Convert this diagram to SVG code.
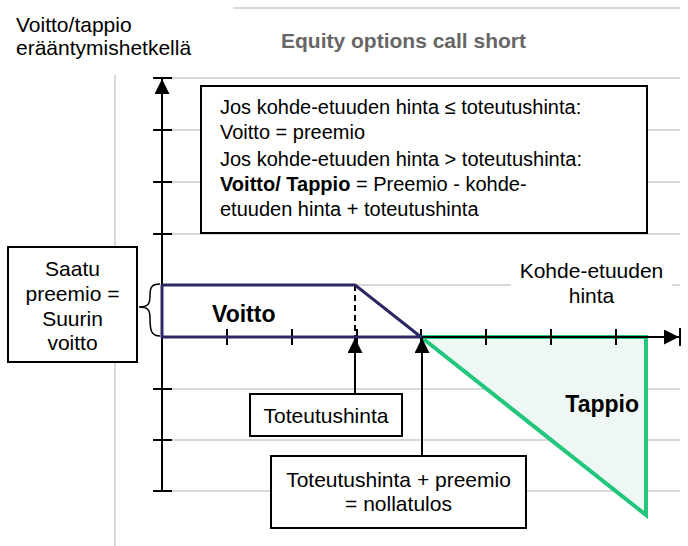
<svg xmlns="http://www.w3.org/2000/svg" width="688" height="546" viewBox="0 0 688 546">
<defs>
<style>
text{font-family:"Liberation Sans",Arial,sans-serif;fill:#000;font-size:21px}
.s20{font-size:20px}
.b{font-weight:bold}
.big{font-size:23px;font-weight:bold}
.grid{stroke:#d9d9d9;stroke-width:2;fill:none}
.ax{stroke:#000;stroke-width:2;fill:none}
.box{fill:#fff;stroke:#000;stroke-width:2}
</style>
<marker id="ahl" viewBox="0 0 10 10" refX="10" refY="5" markerWidth="16" markerHeight="15" markerUnits="userSpaceOnUse" orient="auto"><path d="M0,0 L10,5 L0,10 z" fill="#000"/></marker>
</defs>
<rect width="688" height="546" fill="#fff"/>
<g id="grid">
<line class="grid" x1="233" y1="8" x2="680" y2="8"/>
<line class="grid" x1="115" y1="75" x2="115" y2="546"/>
<line class="grid" x1="162" y1="78" x2="680" y2="78"/>
<line class="grid" x1="162" y1="130" x2="680" y2="130"/>
<line class="grid" x1="162" y1="182" x2="680" y2="182"/>
<line class="grid" x1="162" y1="234" x2="680" y2="234"/>
<line class="grid" x1="162" y1="285" x2="680" y2="285"/>
<line class="grid" x1="162" y1="389" x2="680" y2="389"/>
<line class="grid" x1="162" y1="440" x2="680" y2="440"/>
<line class="grid" x1="162" y1="491" x2="680" y2="491"/>
</g>
<g id="title">
<text x="16" y="32">Voitto/tappio</text>
<text x="16" y="55">erääntymishetkellä</text>
<text class="b" x="281" y="48" style="fill:#666">Equity options call short</text>
</g>
<g id="tappio-area">
<polygon points="421,337 646,337 646,515" fill="#eef7f3" stroke="#22c77c" stroke-width="4" stroke-linejoin="miter"/>
<text class="big" x="639" y="412" text-anchor="end">Tappio</text>
</g>
<g id="axes">
<line class="ax" x1="162" y1="491" x2="162" y2="79" marker-end="url(#ahl)"/>
<line class="ax" x1="153" y1="78" x2="172" y2="78"/>
<line class="ax" x1="162" y1="337" x2="679" y2="337" marker-end="url(#ahl)"/>
<line class="ax" x1="680" y1="328" x2="680" y2="346"/>
<path class="ax" d="M153,130H172M153,182H172M153,234H172M153,389H172M153,440H172M153,491H172"/>
<path class="ax" d="M227,329V345M292,329V345M357,329V345M421,329V345M486,329V345M551,329V345M616,329V345"/>
</g>
<g id="voitto-area">
<line x1="355" y1="285" x2="355" y2="337" stroke="#000" stroke-width="2" stroke-dasharray="6,4"/>
<polyline points="162,285 355,285 421,337 162,337 162,285" fill="none" stroke="#2b2864" stroke-width="3" stroke-linejoin="round"/>
<text class="big" x="212" y="322">Voitto</text>
<path d="M160,284 C151,284 150,288 150,296 C150,304 148,307 139,307 C148,307 150,310 150,318 C150,330 151,336 160,336" fill="none" stroke="#000" stroke-width="1.5"/>
</g>
<g id="info-box">
<rect class="box" x="201" y="86" width="446" height="147"/>
<text class="s20" x="220" y="114">Jos kohde-etuuden hinta ≤ toteutushinta:</text>
<text class="s20" x="220" y="139">Voitto = preemio</text>
<text class="s20" x="220" y="166">Jos kohde-etuuden hinta &gt; toteutushinta:</text>
<text class="s20" x="220" y="191"><tspan class="b">Voitto/ Tappio</tspan> = Preemio - kohde-</text>
<text class="s20" x="220" y="216">etuuden hinta + toteutushinta</text>
</g>
<g id="saatu-box">
<rect class="box" x="8" y="247" width="129" height="115"/>
<text x="72.5" y="276" text-anchor="middle">Saatu</text>
<text x="72.5" y="301" text-anchor="middle">preemio =</text>
<text x="72.5" y="326" text-anchor="middle">Suurin</text>
<text x="72.5" y="350" text-anchor="middle">voitto</text>
</g>
<g id="x-label">
<rect x="511" y="260" width="161" height="50" fill="#fff"/>
<text x="591.5" y="278" text-anchor="middle">Kohde-etuuden</text>
<text x="591.5" y="303" text-anchor="middle">hinta</text>
</g>
<g id="connectors">
<line class="ax" x1="355" y1="394" x2="355" y2="338" marker-end="url(#ahl)"/>
<line class="ax" x1="422" y1="456" x2="422" y2="338" marker-end="url(#ahl)"/>
</g>
<g id="toteutushinta-box">
<rect class="box" x="250" y="394" width="152" height="42"/>
<text x="326" y="423" text-anchor="middle">Toteutushinta</text>
</g>
<g id="nollatulos-box">
<rect class="box" x="271" y="456" width="255" height="72"/>
<text x="398.5" y="487" text-anchor="middle">Toteutushinta + preemio</text>
<text x="398.5" y="511" text-anchor="middle">= nollatulos</text>
</g>
</svg>
